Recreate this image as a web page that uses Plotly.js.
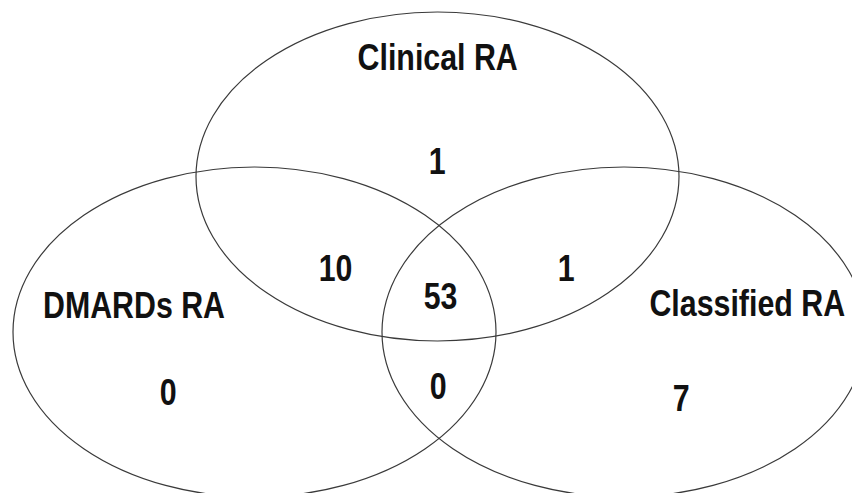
<!DOCTYPE html>
<html>
<head>
<meta charset="utf-8">
<script src="https://cdn.plot.ly/plotly-3.0.1.min.js"></script>
<style>html,body{margin:0;padding:0;background:#fff;}#chart{width:852px;height:493px;}</style>
</head>
<body>
<div id="chart"></div>
<script>
// Set names
const setNames = ["Clinical RA", "DMARDs RA", "Classified RA"];
// Region labels and counts
const regionNames = ["Clinical only", "Clinical & DMARDs", "Clinical & Classified", "All three", "DMARDs only", "DMARDs & Classified", "Classified only"];
const regionCounts = [1, 10, 1, 53, 0, 0, 7];

// Layout geometry (pixel-like coordinate space)
const ellipses = [
  {cx: 437.5, cy: 176.5, rx: 241.5, ry: 164.5},
  {cx: 254.5, cy: 332, rx: 241.5, ry: 165},
  {cx: 624, cy: 332, rx: 242, ry: 165}
];
const setLabelPos = [[437, 57], [134, 305], [747, 303]];
const regionPos = [[437, 161], [335, 268], [566, 268], [440, 296], [168, 392], [438, 386], [681, 398]];

const FONT = "'Liberation Sans', Arial, sans-serif";
const NARROW = 0.82;

const shapes = ellipses.map(e => ({
  type: 'circle', xref: 'x', yref: 'y',
  x0: e.cx - e.rx, x1: e.cx + e.rx, y0: e.cy - e.ry, y1: e.cy + e.ry,
  line: {color: '#3a3a3a', width: 1.2}, fillcolor: 'rgba(0,0,0,0)'
}));

const annotations = [];
setNames.forEach((n, i) => annotations.push({
  x: setLabelPos[i][0], y: setLabelPos[i][1], xref: 'x', yref: 'y', text: '<b>' + n + '</b>',
  showarrow: false, font: {family: FONT, size: 37, color: '#111'}, xanchor: 'center', yanchor: 'middle'
}));
regionCounts.forEach((c, i) => annotations.push({
  x: regionPos[i][0], y: regionPos[i][1], xref: 'x', yref: 'y', text: '<b>' + c + '</b>',
  showarrow: false, font: {family: FONT, size: 37, color: '#111'}, xanchor: 'center', yanchor: 'middle'
}));

function narrowText() {
  document.querySelectorAll('#chart g.annotation').forEach(g => {
    const t = g.querySelector('text.annotation-text');
    if (!t || t.getAttribute('data-narrowed')) return;
    const w = t.getComputedTextLength();
    t.setAttribute('textLength', (w * NARROW).toFixed(1));
    t.setAttribute('lengthAdjust', 'spacingAndGlyphs');
    t.setAttribute('data-narrowed', '1');
    const bb = t.getBBox();
    g.querySelectorAll('rect').forEach(r => {
      const rw = parseFloat(r.getAttribute('width')) || 0;
      const rx = parseFloat(r.getAttribute('x')) || 0;
      const nw = rw - w * (1 - NARROW);
      r.setAttribute('x', (rx + (rw - nw) / 2).toFixed(1));
      r.setAttribute('width', nw.toFixed(1));
    });
  });
}

Plotly.newPlot('chart', [{x: [], y: [], type: 'scatter', hoverinfo: 'skip'}], {
  width: 852, height: 493,
  margin: {l: 0, r: 0, t: 0, b: 0},
  paper_bgcolor: '#fff', plot_bgcolor: '#fff',
  xaxis: {range: [0, 852], visible: false, fixedrange: true},
  yaxis: {range: [493, 0], visible: false, fixedrange: true},
  showlegend: false,
  shapes: shapes,
  annotations: annotations
}, {displayModeBar: false, staticPlot: true}).then(narrowText);
</script>
</body>
</html>
